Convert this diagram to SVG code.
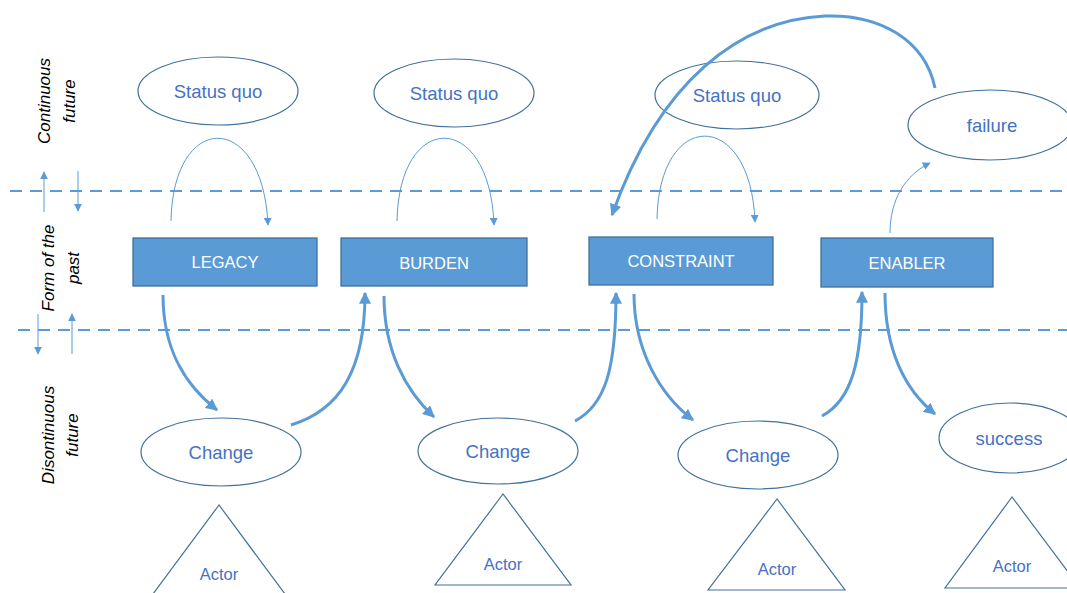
<svg xmlns="http://www.w3.org/2000/svg" width="1067" height="593" viewBox="0 0 1067 593">
<defs>
<style>
.side{font-family:"Liberation Sans",Arial,sans-serif;font-style:italic;font-size:17px;fill:#000;text-anchor:middle}
.ell{fill:#fff;stroke:#41719C;stroke-width:1.2}
.etxt{font-family:"Liberation Sans",Arial,sans-serif;font-size:18.5px;fill:#4472C4;text-anchor:middle}
.box{fill:#5B9BD5;stroke:#41719C;stroke-width:1.3}
.btxt{font-family:"Liberation Sans",Arial,sans-serif;font-size:16.5px;fill:#fff;text-anchor:middle}
.tri{fill:#fff;stroke:#41719C;stroke-width:1.2}
.atxt{font-family:"Liberation Sans",Arial,sans-serif;font-size:16.5px;fill:#4472C4;text-anchor:middle}
.dash{stroke:#5B9BD5;stroke-width:2.2;stroke-dasharray:12 8;fill:none}
.thin{stroke:#5B9BD5;stroke-width:1;fill:none;marker-end:url(#ah)}
.thick{stroke:#5B9BD5;stroke-width:3;fill:none;marker-end:url(#ahb)}
</style>
<marker id="ah" viewBox="0 0 10 10" refX="9" refY="5" markerWidth="8" markerHeight="8" markerUnits="userSpaceOnUse" orient="auto">
<path d="M0,0 L10,5 L0,10 z" fill="#5B9BD5"/>
</marker>
<marker id="ahb" viewBox="0 0 10 10" refX="9" refY="5" markerWidth="4" markerHeight="4" orient="auto">
<path d="M0,0 L10,5 L0,10 z" fill="#5B9BD5"/>
</marker>
</defs>
<rect width="1067" height="593" fill="#fff"/>

<g id="side-labels">
<text class="side" transform="translate(50,101) rotate(-90)">Continuous</text>
<text class="side" transform="translate(75,101) rotate(-90)">future</text>
<text class="side" transform="translate(54,268) rotate(-90)">Form of the</text>
<text class="side" transform="translate(79,268) rotate(-90)">past</text>
<text class="side" transform="translate(54,435) rotate(-90)">Disontinuous</text>
<text class="side" transform="translate(78,435) rotate(-90)">future</text>
</g>

<g id="dividers">
<line class="dash" x1="10" y1="191" x2="1067" y2="191"/>
<line class="dash" x1="18" y1="330" x2="1067" y2="330"/>
</g>

<g id="status-quo-1"><ellipse class="ell" cx="218" cy="91" rx="80" ry="34"/><text class="etxt" x="218" y="98">Status quo</text></g>
<g id="status-quo-2"><ellipse class="ell" cx="454" cy="93" rx="80" ry="34"/><text class="etxt" x="454" y="100">Status quo</text></g>
<g id="status-quo-3"><ellipse class="ell" cx="737" cy="95" rx="82" ry="34"/><text class="etxt" x="737" y="102">Status quo</text></g>
<g id="failure"><ellipse class="ell" cx="990" cy="125" rx="82" ry="35"/><text class="etxt" x="992" y="132">failure</text></g>

<g id="legacy"><rect class="box" x="133" y="238" width="184" height="48"/><text class="btxt" x="225" y="268">LEGACY</text></g>
<g id="burden"><rect class="box" x="341" y="238" width="186" height="48"/><text class="btxt" x="434" y="269">BURDEN</text></g>
<g id="constraint"><rect class="box" x="589" y="237" width="184" height="48"/><text class="btxt" x="681" y="267">CONSTRAINT</text></g>
<g id="enabler"><rect class="box" x="821" y="238" width="172" height="49"/><text class="btxt" x="907" y="269">ENABLER</text></g>

<g id="change-1"><ellipse class="ell" cx="221" cy="452" rx="80" ry="34"/><text class="etxt" x="221" y="459">Change</text></g>
<g id="change-2"><ellipse class="ell" cx="498" cy="451" rx="80" ry="33"/><text class="etxt" x="498" y="458">Change</text></g>
<g id="change-3"><ellipse class="ell" cx="758" cy="455" rx="80" ry="34"/><text class="etxt" x="758" y="462">Change</text></g>
<g id="success"><ellipse class="ell" cx="1010" cy="438" rx="71" ry="35"/><text class="etxt" x="1009" y="445">success</text></g>

<g id="actor-1"><polygon class="tri" points="219,505 150,598 288,598"/><text class="atxt" x="219" y="580">Actor</text></g>
<g id="actor-2"><polygon class="tri" points="503,494 435,585 571,585"/><text class="atxt" x="503" y="570">Actor</text></g>
<g id="actor-3"><polygon class="tri" points="777,499 708,590 845,590"/><text class="atxt" x="777" y="575">Actor</text></g>
<g id="actor-4"><polygon class="tri" points="1012,497 945,588 1080,588"/><text class="atxt" x="1012" y="572">Actor</text></g>

<g id="connectors">
<line class="thin" x1="44" y1="212" x2="44" y2="172"/>
<line class="thin" x1="78" y1="171" x2="78" y2="211"/>
<line class="thin" x1="38" y1="314" x2="38" y2="354"/>
<line class="thin" x1="72" y1="354" x2="72" y2="314"/>

<path class="thin" d="M171,221 C173,110 263,110 268,225"/>
<path class="thin" d="M397,221 C399,110 490,110 494,225"/>
<path class="thin" d="M657,219 C659,108 751,108 755,222"/>
<path class="thin" d="M890,233 C890,200 905,175 930,163"/>

<path class="thick" d="M935,88 C925,40 880,14 825,16 C740,20 660,80 612,215"/>

<path class="thick" d="M163,295 C163,350 185,385 217,410"/>
<path class="thick" d="M291,425 C340,410 365,370 365,293"/>
<path class="thick" d="M384,296 C384,350 405,390 434,417"/>
<path class="thick" d="M575,421 C605,405 616,370 616,293"/>
<path class="thick" d="M634,294 C634,350 660,395 693,420"/>
<path class="thick" d="M822,416 C852,400 862,360 862,292"/>
<path class="thick" d="M885,293 C885,350 905,390 935,414"/>
</g>
</svg>
